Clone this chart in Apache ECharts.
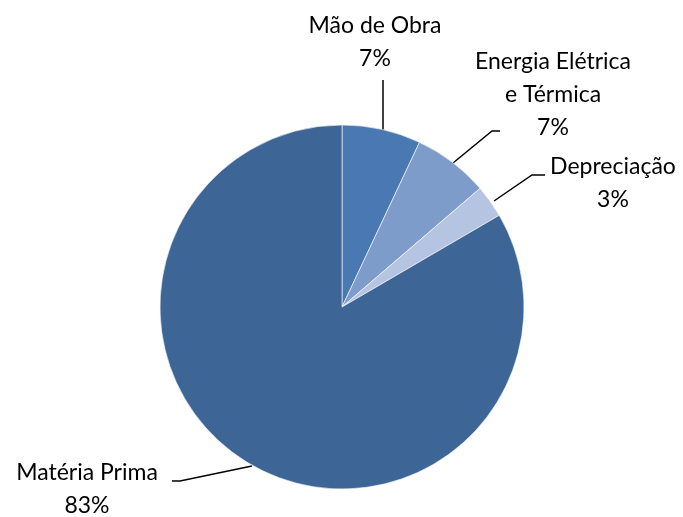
<!DOCTYPE html>
<html>
<head>
<meta charset="utf-8">
<script src="https://cdn.jsdelivr.net/npm/echarts@6/dist/echarts.min.js"></script>
<style>
  html, body { margin: 0; padding: 0; background: #fff; }
  #pie { width: 683px; height: 517px; }
</style>
</head>
<body>
<div id="pie"></div>
<script>
// categorias e valores (%)
const categories = ['Mão de Obra', 'Energia Elétrica\ne Térmica', 'Depreciação', 'Matéria Prima'];
const values = [7.0, 6.7, 2.9, 83.4];
const colors = ['#4a78b2', '#7d9cc9', '#b5c5e1', '#3d6596'];

// onde fica cada rótulo (centro do texto) e a linha de chamada
const labelSpots = [
    { x: 375, y: 42, line: [[383, 130], [383, 80], [383, 80]] },
    { x: 553, y: 95, line: [[453, 163], [492, 131], [500, 131]] },
    { x: 613, y: 183, line: [[494, 201], [532, 175], [545, 175]] },
    { x: 87, y: 489, line: [[252, 466], [180, 481], [172, 481]] }
];

const chart = echarts.init(document.getElementById('pie'));
chart.setOption({
    animation: false,
    color: colors,
    series: [{
        type: 'pie',
        center: [342, 307],
        radius: 182,
        startAngle: 90,
        clockwise: true,
        data: categories.map((c, i) => ({ name: c, value: values[i] })),
        itemStyle: { borderColor: '#ffffff', borderWidth: 0.6 },
        label: {
            show: true,
            formatter: p => p.name + '\n' + Math.round(p.percent) + '%',
            fontFamily: 'Lato',
            fontSize: 23,
            lineHeight: 33,
            color: '#000',
            align: 'center',
            overflow: 'none'
        },
        labelLine: { show: true, lineStyle: { color: '#000', width: 1.5 } },
        labelLayout: p => {
            const s = labelSpots[p.dataIndex];
            return {
                x: s.x, y: s.y,
                align: 'center', verticalAlign: 'middle',
                labelLinePoints: s.line
            };
        }
    }]
});
</script>
</body>
</html>
